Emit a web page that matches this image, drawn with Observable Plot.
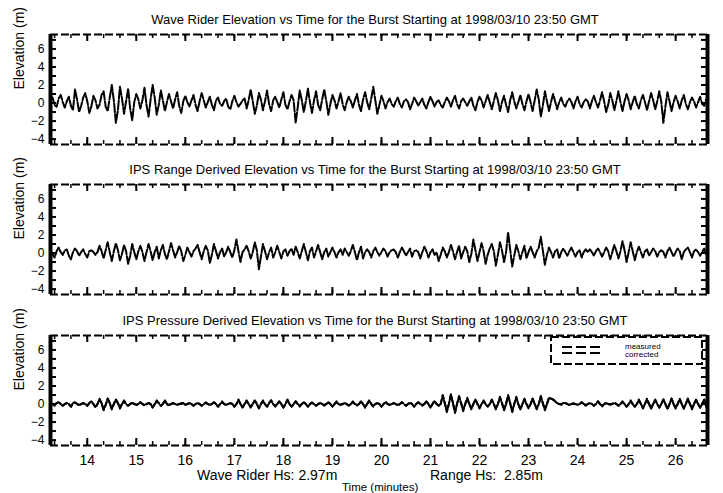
<!DOCTYPE html>
<html>
<head>
<meta charset="utf-8">
<script src="https://cdn.jsdelivr.net/npm/d3@7"></script>
<script src="https://cdn.jsdelivr.net/npm/@observablehq/plot@0.6"></script>
<style>
  html, body { margin: 0; padding: 0; background: #fff; }
  #wrap { position: relative; width: 723px; height: 493px; overflow: hidden; font-family: "Liberation Sans", Arial, sans-serif; color: #000; }
  .cap { position: absolute; white-space: pre; font-family: "Liberation Sans", Arial, sans-serif; color: #000; line-height: 1; }
</style>
</head>
<body>
<div id="wrap"></div>
<script>
// ---- data (sampled every 2.5 s starting at 13.25 min) ----
const startMinute = 13.25;
const stepMinutes = 2.5 / 60;

const titles = [
  "Wave Rider Elevation vs Time for the Burst Starting at 1998/03/10 23:50 GMT",
  "IPS Range Derived Elevation vs Time for the Burst Starting at 1998/03/10 23:50 GMT",
  "IPS Pressure Derived Elevation vs Time for the Burst Starting at 1998/03/10 23:50 GMT"
];

const waveRider = [
  0.3, 0.6, -0.2, -0.4, 0.5, 0.9, 0.1, -0.5, 0.2, 0.7, -0.3, -0.8, 1.5, 0.4, -1.0, -0.3, 0.6, 1.1, 0.2, -1.1, -0.4, 0.8, 0.3, -0.6,
  -0.2, 0.9, 1.3, -0.4, -0.9, 0.6, 2.0, 0.3, -2.2, -0.8, 1.8, 0.5, -1.2, 0.2, 1.6, -0.6, -1.9, 0.1, 1.0, 0.4, -0.6, 0.3, 1.7, -0.2,
  -1.5, 0.4, 2.0, 0.6, -1.3, -0.2, 1.4, 0.3, -0.9, 0.1, 1.0, 0.2, -0.6, 0.4, 1.2, -0.3, -1.1, 0.2, 0.8, 0.1, -0.4, 0.3, 0.9, -0.2,
  -0.9, 0.2, 1.1, 0.3, -0.5, 0.1, 0.7, -0.2, -0.8, 0.3, 0.6, -0.1, -0.3, 0.2, 0.5, -0.4, -0.7, 0.2, 0.8, 0.1, -0.4, -0.1, 0.3, 0.5,
  -0.6, 0.3, 1.5, 0.2, -1.2, -0.3, 1.1, 0.4, -0.8, 0.2, 1.4, -0.1, -0.9, 0.3, 0.7, 0.1, -0.5, 0.4, 1.2, -0.2, -0.7, 0.2, 0.9, 0.3,
  -2.2, -0.5, 1.4, 0.3, -1.0, 0.2, 1.6, 0.1, -1.1, 0.3, 1.3, -0.2, -0.8, 0.4, 1.5, 0.2, -1.3, -0.1, 0.9, 0.3, -0.6, 0.2, 1.1, -0.1,
  -0.8, 0.1, 0.7, 0.2, -0.5, 0.3, 1.0, -0.2, -0.9, 0.4, 1.2, 0.1, -0.7, 0.5, 1.8, 0.3, -1.2, -0.2, 0.8, 0.2, -0.6, 0.1, 0.5, -0.1,
  -0.4, 0.2, 0.6, -0.1, -0.5, 0.2, 0.4, 0.1, -0.7, -0.1, 0.6, 0.2, -0.3, 0.1, 0.5, -0.2, -0.6, 0.1, 0.7, 0.2, -0.4, 0.1, 0.3, -0.2,
  -0.5, 0.1, 0.6, 0.2, -0.4, 0.3, 0.8, -0.1, -0.6, 0.2, 0.5, 0.1, -0.3, 0.2, 0.6, -0.3, -0.8, 0.1, 0.7, 0.3, -0.5, 0.2, 0.9, 0.1,
  -0.7, 0.2, 1.1, 0.3, -0.9, 0.1, 0.8, -0.2, -1.0, 0.3, 1.2, 0.2, -0.6, 0.1, 0.9, -0.1, -0.8, 0.2, 1.0, 0.1, -0.9, 0.3, 1.5, 0.4,
  -1.5, -0.3, 1.3, 0.2, -0.9, 0.1, 1.0, 0.2, -0.7, 0.1, 0.6, -0.1, -0.4, 0.2, 0.5, 0.1, -0.6, 0.2, 0.7, -0.1, -0.5, 0.1, 0.4, 0.2,
  -0.6, 0.2, 0.8, 0.1, -0.5, 0.3, 1.2, 0.2, -1.0, -0.2, 1.1, 0.3, -0.8, 0.2, 1.3, 0.1, -0.9, 0.2, 1.0, 0.3, -0.7, 0.1, 0.8, -0.1,
  -0.6, 0.3, 0.9, 0.1, -0.8, 0.2, 1.1, 0.3, -0.7, 0.2, 1.3, 0.1, -2.2, -0.4, 1.2, 0.2, -0.9, 0.1, 0.8, 0.2, -0.6, 0.3, 0.9, -0.1,
  -0.7, 0.1, 0.6, 0.2, -0.5, 0.1, 0.7, -0.1, -0.3, 0.4
];

const ipsRange = [
  0.3, -0.1, -0.5, 0.2, 0.6, 0.1, -0.2, 0.3, 0.4, -0.3, -0.7, 0.1, 0.5, 0.2, -0.3, 0.1, 0.4, -0.1, -0.5, 0.2, 0.3, 0.1, -0.2, 0.1,
  0.8, 0.2, -0.6, 0.3, 1.2, 0.1, -0.9, 0.2, 1.1, 0.3, -0.8, -0.1, 0.9, 0.2, -1.2, -0.3, 1.0, 0.1, -0.7, 0.2, 0.8, 0.1, -0.9, 0.1,
  1.0, 0.2, -0.8, 0.1, 0.7, -0.6, 0.3, 0.9, -0.1, -0.7, 0.2, 1.1, 0.3, -0.5, 0.1, 0.8, 0.2, -0.9, -0.2, 0.6, 0.1, -0.4, 0.2, 0.5,
  0.9, 0.1, -0.7, 0.2, 0.8, 0.3, -1.1, -0.2, 1.0, 0.2, -0.6, 0.1, 0.5, -0.4, 0.1, 0.7, 0.1, -0.5, 0.3, 1.5, 0.2, -1.0, 0.1, 0.4,
  0.8, 0.2, -0.6, 0.1, 1.2, 0.3, -1.8, -0.4, 1.0, 0.2, -0.7, 0.1, 0.6, -0.5, 0.1, 0.8, 0.1, -0.6, 0.2, 0.4, -0.3, 0.2, 0.5, -0.2,
  0.7, 0.1, -0.6, 0.2, 1.0, 0.1, -0.8, 0.2, 0.6, -0.5, 0.2, 0.9, 0.1, -0.7, 0.1, 0.5, -0.4, 0.1, 0.6, 0.1, -0.5, 0.1, 0.4, -0.2,
  0.5, 0.1, -0.3, 0.2, 0.9, 0.1, -0.8, 0.1, 0.7, -0.6, 0.1, 0.4, 0.1, -0.5, 0.2, 0.6, 0.1, -0.3, 0.1, 0.5, 0.2, -0.4, 0.1, 0.3,
  0.4, 0.1, -0.5, 0.1, 0.6, 0.2, -0.3, 0.1, 0.5, -0.4, 0.2, 0.3, 0.1, -0.6, 0.1, 0.7, 0.2, -0.5, 0.1, 0.4, -0.2, 0.1, -0.9, -0.2,
  0.6, 0.2, -0.5, 0.1, 0.9, 0.2, -0.7, 0.1, 0.8, -0.6, 0.1, 0.7, 0.2, -1.0, -0.1, 1.5, 0.3, -0.9, 0.1, 1.1, 0.2, -1.2, -0.2, 0.5,
  1.0, 0.2, -1.4, -0.2, 1.2, 0.3, -1.0, 0.1, 2.3, 0.4, -1.5, -0.3, 0.9, 0.2, -0.7, 0.1, 0.8, -0.6, 0.1, 0.7, 0.1, -0.5, 0.2, 0.6,
  1.8, 0.3, -1.3, -0.2, 0.6, 0.1, -0.5, 0.2, 0.4, -0.6, 0.1, 0.5, 0.1, -0.3, 0.2, 0.6, 0.1, -0.4, 0.1, 0.3, -0.5, 0.1, 0.4, 0.1,
  0.4, 0.1, -0.3, 0.2, 0.5, 0.1, -0.4, 0.1, 0.6, 0.2, -0.7, 0.1, 0.9, 0.2, -0.6, 0.2, 1.3, 0.3, -1.0, 0.1, 1.2, 0.2, -0.8, 0.1,
  0.7, 0.1, -0.5, 0.2, 0.4, -0.3, 0.1, 0.5, 0.2, -0.4, 0.1, 0.3, 0.1, -0.5, 0.2, 0.6, 0.1, -0.4, 0.1, 0.5, 0.2, -0.7, 0.1, 0.4,
  0.6, 0.1, -0.5, 0.2, 0.4, 0.1, -0.3, 0.1, 0.5, -0.2
];

const pressureMeasured = [
  0.1, 0.0, -0.1, 0.1, 0.2, 0.0, -0.2, 0.0, 0.1, 0.0, -0.3, 0.1, 0.2, 0.0, -0.1, 0.0, 0.1, 0.0, -0.2, 0.1, 0.3, 0.0, -0.3, 0.0,
  0.5, 0.1, -0.6, -0.1, 0.6, 0.1, -0.5, 0.0, 0.5, 0.1, -0.4, 0.0, 0.3, 0.0, -0.2, 0.0, 0.1, 0.0, -0.1, 0.0, 0.2, 0.0, -0.1, 0.0,
  0.1, 0.0, -0.4, 0.0, 0.3, 0.1, -0.2, 0.0, 0.4, 0.0, -0.1, 0.0, 0.1, 0.0, -0.1, 0.0, 0.0, 0.1, -0.1, 0.0, 0.1, 0.0, -0.2, 0.0,
  0.1, 0.0, -0.2, 0.0, 0.1, 0.0, -0.1, 0.0, 0.2, 0.0, -0.3, 0.0, 0.2, 0.0, -0.1, 0.0, 0.1, 0.0, -0.3, 0.0, 0.4, 0.0, -0.4, 0.0,
  0.3, 0.0, -0.3, 0.0, 0.4, 0.0, -0.4, 0.0, 0.3, 0.0, -0.3, 0.1, 0.4, 0.0, -0.2, 0.0, 0.3, 0.0, -0.4, 0.0, 0.4, 0.0, -0.3, 0.0,
  0.3, 0.0, -0.2, 0.0, 0.2, 0.0, -0.3, 0.0, 0.1, 0.0, -0.2, 0.0, 0.1, 0.0, -0.1, 0.0, 0.2, 0.0, -0.3, 0.0, 0.2, 0.0, -0.1, 0.0,
  0.1, 0.0, -0.2, 0.0, 0.2, 0.0, -0.1, 0.0, 0.3, 0.0, -0.4, 0.0, 0.4, 0.0, -0.2, 0.0, 0.1, 0.0, -0.3, 0.0, 0.2, 0.0, -0.1, 0.0,
  0.1, 0.0, -0.1, 0.0, 0.2, 0.0, -0.2, 0.0, 0.1, 0.0, -0.3, 0.0, 0.2, 0.0, -0.1, 0.0, 0.3, 0.0, -0.4, 0.0, 0.3, 0.0, -0.2, 0.0,
  0.9, 0.1, -0.8, 0.0, 1.0, 0.1, -0.9, 0.0, 0.8, 0.1, -0.7, 0.0, 0.6, 0.0, -0.5, 0.0, 0.5, 0.0, -0.4, 0.0, 0.3, 0.0, -0.3, 0.0,
  0.4, 0.0, -0.5, 0.0, 0.7, 0.1, -0.6, 0.0, 0.9, 0.1, -0.8, 0.0, 0.7, 0.0, -0.6, 0.0, 0.5, 0.0, -0.4, 0.0, 0.6, 0.0, -0.5, 0.0,
  0.8, 0.1, -0.6, 0.0, 0.7, 0.6, 0.5, 0.3, 0.1, 0.0, 0.0, 0.1, 0.1, 0.0, -0.1, 0.0, 0.0, 0.0, -0.1, 0.0, 0.2, 0.0, -0.1, 0.0,
  0.1, 0.0, -0.2, 0.0, 0.3, 0.0, -0.2, 0.0, 0.1, 0.0, 0.0, 0.0, 0.1, 0.0, -0.2, 0.0, 0.2, 0.0, -0.3, 0.0, 0.3, 0.0, -0.3, 0.0,
  0.4, 0.0, -0.4, 0.0, 0.5, 0.0, -0.5, 0.0, 0.4, 0.0, -0.4, 0.0, 0.5, 0.0, -0.5, 0.0, 0.6, 0.0, -0.4, 0.0, 0.5, 0.0, -0.5, 0.0,
  0.6, 0.0, -0.5, 0.0, 0.4, 0.0, -0.4, 0.0, 0.5, -0.3
];

const pressureCorrected = [
  0.1, 0.0, -0.2, 0.1, 0.2, 0.0, -0.2, 0.0, 0.1, 0.0, -0.3, 0.1, 0.2, 0.0, -0.2, 0.0, 0.1, 0.0, -0.2, 0.1, 0.3, 0.0, -0.4, 0.0,
  0.6, 0.1, -0.7, -0.1, 0.6, 0.1, -0.6, 0.0, 0.5, 0.1, -0.5, 0.0, 0.4, 0.0, -0.2, 0.0, 0.2, 0.0, -0.1, 0.0, 0.2, 0.0, -0.2, 0.0,
  0.1, 0.0, -0.4, 0.0, 0.4, 0.1, -0.2, 0.0, 0.4, 0.0, -0.2, 0.0, 0.1, 0.0, -0.1, 0.0, 0.1, 0.1, -0.1, 0.0, 0.1, 0.0, -0.2, 0.0,
  0.1, 0.0, -0.2, 0.0, 0.2, 0.0, -0.1, 0.0, 0.2, 0.0, -0.3, 0.0, 0.3, 0.0, -0.1, 0.0, 0.1, 0.0, -0.3, 0.0, 0.5, 0.0, -0.4, 0.0,
  0.4, 0.0, -0.4, 0.0, 0.4, 0.0, -0.5, 0.0, 0.4, 0.0, -0.3, 0.1, 0.4, 0.0, -0.3, 0.0, 0.3, 0.0, -0.4, 0.0, 0.5, 0.0, -0.3, 0.0,
  0.3, 0.0, -0.3, 0.0, 0.2, 0.0, -0.3, 0.0, 0.2, 0.0, -0.2, 0.0, 0.1, 0.0, -0.2, 0.0, 0.2, 0.0, -0.3, 0.0, 0.3, 0.0, -0.1, 0.0,
  0.1, 0.0, -0.2, 0.0, 0.3, 0.0, -0.2, 0.0, 0.3, 0.0, -0.4, 0.0, 0.4, 0.0, -0.3, 0.0, 0.1, 0.0, -0.3, 0.0, 0.3, 0.0, -0.1, 0.0,
  0.1, 0.0, -0.2, 0.0, 0.2, 0.0, -0.2, 0.0, 0.2, 0.0, -0.3, 0.0, 0.2, 0.0, -0.2, 0.0, 0.3, 0.0, -0.4, 0.0, 0.4, 0.0, -0.2, 0.0,
  1.0, 0.1, -0.9, 0.0, 1.1, 0.1, -1.0, 0.0, 0.9, 0.1, -0.8, 0.0, 0.7, 0.0, -0.6, 0.0, 0.5, 0.0, -0.5, 0.0, 0.4, 0.0, -0.3, 0.0,
  0.5, 0.0, -0.6, 0.0, 0.8, 0.1, -0.7, 0.0, 1.0, 0.1, -0.9, 0.0, 0.8, 0.0, -0.6, 0.0, 0.6, 0.0, -0.5, 0.0, 0.6, 0.0, -0.6, 0.0,
  0.9, 0.1, -0.7, 0.0, 0.7, 0.6, 0.5, 0.3, 0.1, 0.0, -0.1, 0.1, 0.1, 0.0, -0.1, 0.0, 0.1, 0.0, -0.1, 0.0, 0.2, 0.0, -0.2, 0.0,
  0.1, 0.0, -0.2, 0.0, 0.3, 0.0, -0.3, 0.0, 0.1, 0.0, -0.1, 0.0, 0.2, 0.0, -0.2, 0.0, 0.3, 0.0, -0.3, 0.0, 0.4, 0.0, -0.3, 0.0,
  0.5, 0.0, -0.5, 0.0, 0.6, 0.0, -0.5, 0.0, 0.5, 0.0, -0.4, 0.0, 0.5, 0.0, -0.6, 0.0, 0.6, 0.0, -0.5, 0.0, 0.6, 0.0, -0.5, 0.0,
  0.6, 0.0, -0.6, 0.0, 0.5, 0.0, -0.4, 0.0, 0.5, -0.3
];

const xTickLabels = [14, 15, 16, 17, 18, 19, 20, 21, 22, 23, 24, 25, 26];
const yTickLabels = [-4, -2, 0, 2, 4, 6];
const legendLabels = ["measured", "corrected"];
const yLabel = "Elevation (m)";
const xLabel = "Time (minutes)";
const hsTexts = ["Wave Rider Hs: 2.97m", "Range Hs:  2.85m"];

// ---- helpers ----
const xDomain = [13.25, 26.65];
const yDomain = [-4.6, 7.6];
const innerH = 110;
const innerW = 657;
const toRows = (vals) => vals.map((v, i) => ({t: startMinute + i * stepMinutes, v}));
const xMinor = d3.range(40, 81).map(k => k / 3).filter(t => t > xDomain[0] && t < xDomain[1]);
const yMinor = d3.range(-4, 8);
const font = "'Liberation Sans', Arial, sans-serif";

function panel(title, seriesList, isBottom) {
  const marginTop = 34, marginBottom = isBottom ? 47 : 6;
  const marks = [
    Plot.ruleY([yDomain[1]], {stroke: "black", strokeWidth: 2, strokeDasharray: "8,3"}),
    Plot.ruleY([yDomain[0]], {stroke: "black", strokeWidth: 2, strokeDasharray: "8,3"}),
    Plot.ruleX([xDomain[0]], {stroke: "black", strokeWidth: 4}),
    Plot.ruleX([xDomain[1]], {stroke: "black", strokeWidth: 4}),
    Plot.tickX(xMinor, {x: d => d, insetBottom: innerH - 4, stroke: "black", strokeWidth: 1.5}),
    Plot.tickX(xMinor, {x: d => d, insetTop: innerH - 4, stroke: "black", strokeWidth: 1.5}),
    Plot.tickX(xTickLabels, {x: d => d, insetBottom: innerH - 7, stroke: "black", strokeWidth: 2}),
    Plot.tickX(xTickLabels, {x: d => d, insetTop: innerH - 7, stroke: "black", strokeWidth: 2}),
    Plot.tickY(yMinor, {y: d => d, insetRight: innerW - 6, stroke: "black", strokeWidth: 2}),
    Plot.tickY(yMinor, {y: d => d, insetLeft: innerW - 6, stroke: "black", strokeWidth: 2}),
    ...seriesList.map(s => Plot.line(toRows(s.values), {x: "t", y: "v", stroke: "black", strokeWidth: 2, strokeDasharray: s.dash, clip: true})),
    Plot.axisY({ticks: yTickLabels, tickSize: 0, tickPadding: 6, label: null, fontSize: 12}),
    Plot.text([title], {frameAnchor: "top", dy: -20, dx: -4, fontSize: 13, fill: "black"}),
    Plot.text([yLabel], {frameAnchor: "left", rotate: -90, dx: -31, fontSize: 14, fill: "black"})
  ];
  if (isBottom) {
    marks.push(Plot.axisX({ticks: xTickLabels, tickSize: 0, tickPadding: 10, label: null, fontSize: 14}));
  }
  return Plot.plot({
    width: 723,
    height: marginTop + innerH + marginBottom,
    marginLeft: 50, marginRight: 16, marginTop, marginBottom,
    style: {fontFamily: font, color: "black", background: "transparent", overflow: "visible"},
    x: {domain: xDomain, axis: null},
    y: {domain: yDomain, axis: null},
    marks
  });
}

const wrap = document.getElementById("wrap");
const tops = [0, 150, 301];
const panels = [
  panel(titles[0], [{values: waveRider, dash: "9,2"}], false),
  panel(titles[1], [{values: ipsRange, dash: "9,2"}], false),
  panel(titles[2], [{values: pressureMeasured, dash: "9,2"}, {values: pressureCorrected, dash: "5,3"}], true)
];
panels.forEach((p, i) => {
  p.style.position = "absolute";
  p.style.left = "0px";
  p.style.top = tops[i] + "px";
  wrap.appendChild(p);
});

// legend (panel 3)
const ns = "http://www.w3.org/2000/svg";
const leg = document.createElementNS(ns, "svg");
leg.setAttribute("width", 155);
leg.setAttribute("height", 31);
leg.style.position = "absolute";
leg.style.left = "549px";
leg.style.top = "335px";
leg.style.overflow = "visible";
const box = document.createElementNS(ns, "rect");
box.setAttribute("x", 2); box.setAttribute("y", 2);
box.setAttribute("width", 151); box.setAttribute("height", 27);
box.setAttribute("fill", "white"); box.setAttribute("stroke", "black");
box.setAttribute("stroke-width", 2); box.setAttribute("stroke-dasharray", "8,3");
leg.appendChild(box);
legendLabels.forEach((lab, i) => {
  const ly = 12 + i * 6;
  const ln = document.createElementNS(ns, "line");
  ln.setAttribute("x1", 13); ln.setAttribute("x2", 54);
  ln.setAttribute("y1", ly); ln.setAttribute("y2", ly);
  ln.setAttribute("stroke", "black"); ln.setAttribute("stroke-width", 2);
  ln.setAttribute("stroke-dasharray", "10,4");
  leg.appendChild(ln);
  const tx = document.createElementNS(ns, "text");
  tx.setAttribute("x", 76); tx.setAttribute("y", 14 + i * 8);
  tx.setAttribute("font-size", 8); tx.setAttribute("font-family", font);
  tx.textContent = lab;
  leg.appendChild(tx);
});
wrap.appendChild(leg);

// bottom captions
function cap(text, left, top, size) {
  const d = document.createElement("div");
  d.className = "cap";
  d.textContent = text;
  d.style.left = left + "px";
  d.style.top = top + "px";
  d.style.fontSize = size + "px";
  wrap.appendChild(d);
}
cap(hsTexts[0], 197, 468, 14);
cap(hsTexts[1], 430, 468, 14);
cap(xLabel, 342, 482, 11.5);
</script>
</body>
</html>
